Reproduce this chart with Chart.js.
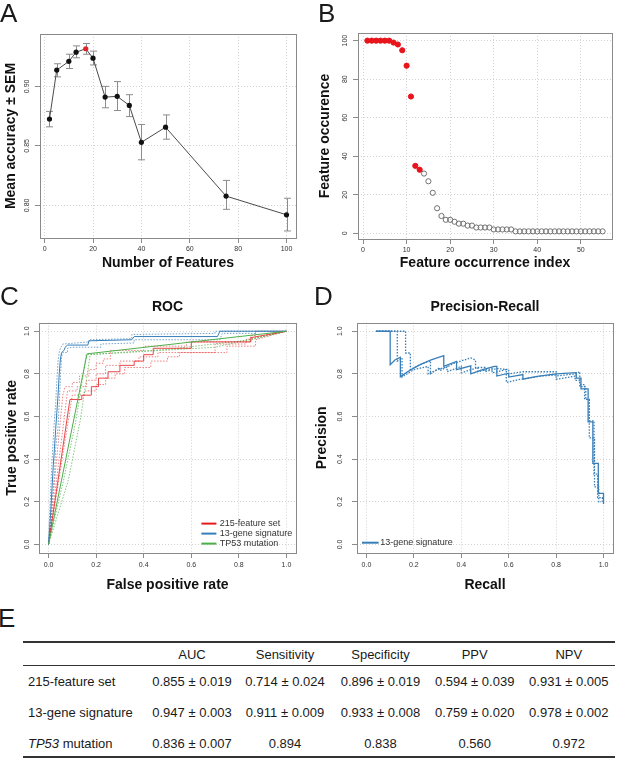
<!DOCTYPE html>
<html>
<head>
<meta charset="utf-8">
<script src="https://cdn.jsdelivr.net/npm/chart.js@4.4.1/dist/chart.umd.min.js"></script>
<style>
  html, body { margin: 0; padding: 0; background: #fff; }
  #fig { position: relative; width: 617px; height: 760px; overflow: hidden; font-family: "Liberation Sans", Arial, sans-serif; color: #1a1a1a; }
  canvas { position: absolute; }
  .tag { position: absolute; font-size: 26px; line-height: 26px; }
  .cell { position: absolute; height: 16px; line-height: 16px; font-size: 13px; white-space: nowrap; }
  .rule { position: absolute; left: 23px; width: 592px; background: #333; }
</style>
</head>
<body>
<div id="fig">
  <canvas id="chartA" width="308" height="280" style="left:0;top:0"></canvas>
  <canvas id="chartB" width="317" height="280" style="left:300px;top:0"></canvas>
  <canvas id="chartC" width="308" height="320" style="left:0;top:280px"></canvas>
  <canvas id="chartD" width="317" height="320" style="left:300px;top:280px"></canvas>
  <div class="tag" style="left:0;top:0">A</div>
  <div class="tag" style="left:318px;top:0">B</div>
  <div class="tag" style="left:0;top:283px">C</div>
  <div class="tag" style="left:314px;top:283px">D</div>
  <div class="tag" style="left:-2px;top:605px">E</div>
</div>
<script>
// ---- panel A: accuracy vs number of features
const featureCounts = [2, 5, 10, 13, 17, 20, 25, 30, 35, 40, 50, 75, 100];
const meanAccuracy  = [0.8726, 0.9137, 0.9210, 0.9287, 0.9316, 0.9237, 0.8910, 0.8916, 0.8840, 0.8530, 0.8657, 0.8078, 0.7921];
const semLow        = [0.866, 0.908, 0.915, 0.924, 0.927, 0.918, 0.882, 0.8797, 0.8746, 0.8383, 0.8556, 0.7967, 0.7785];
const semHigh       = [0.879, 0.919, 0.927, 0.934, 0.936, 0.9296, 0.900, 0.904, 0.893, 0.868, 0.876, 0.821, 0.806];
const bestFeatureCount = 17;
const ticksAX = [0, 20, 40, 60, 80, 100];
const ticksAY = [0.80, 0.85, 0.90];

// ---- panel B: feature occurrence
const occurrence = [100, 100, 100, 100, 100, 100, 99, 98, 95, 87, 71, 35, 33,
  31, 27, 21, 13, 9, 7, 7, 6, 5, 5, 4, 4, 3, 3, 3, 3, 2, 2, 2, 2, 2,
  1, 1, 1, 1, 1, 1, 1, 1, 1, 1, 1, 1, 1, 1, 1, 1, 1, 1, 1, 1, 1];
const selectedCount = 13;
const ticksBX = [0, 10, 20, 30, 40, 50];
const ticksBY = [0, 20, 40, 60, 80, 100];

// ---- panel C: ROC curves (FPR, TPR)
const rocFeatMean = [[0,0],[0.09,0.68],[0.14,0.68],[0.14,0.70],[0.18,0.70],[0.18,0.74],[0.21,0.74],[0.21,0.78],[0.25,0.78],[0.25,0.81],[0.30,0.81],[0.30,0.84],[0.36,0.84],[0.36,0.86],[0.40,0.86],[0.40,0.89],[0.44,0.89],[0.44,0.92],[0.60,0.92],[0.60,0.95],[0.85,0.95],[0.85,0.97],[1,1]];
const rocFeatRunA = [[0,0],[0.06,0.70],[0.07,0.74],[0.10,0.74],[0.10,0.76],[0.13,0.76],[0.13,0.79],[0.17,0.79],[0.17,0.82],[0.20,0.82],[0.20,0.85],[0.23,0.85],[0.23,0.87],[0.26,0.87],[0.26,0.91],[0.40,0.91],[0.40,0.93],[0.58,0.93],[0.58,0.95],[0.85,0.95],[0.85,0.98],[0.87,0.98],[0.87,1],[1,1]];
const rocFeatRunB = [[0,0],[0.08,0.72],[0.12,0.72],[0.12,0.74],[0.16,0.74],[0.16,0.77],[0.20,0.77],[0.20,0.80],[0.24,0.80],[0.24,0.84],[0.30,0.84],[0.30,0.86],[0.38,0.86],[0.38,0.88],[0.46,0.88],[0.46,0.90],[0.70,0.90],[0.70,0.94],[0.83,0.94],[0.83,0.96],[1,1]];
const rocFeatRunC = [[0,0],[0.10,0.70],[0.15,0.70],[0.15,0.72],[0.20,0.72],[0.20,0.75],[0.24,0.75],[0.24,0.78],[0.28,0.78],[0.28,0.80],[0.32,0.80],[0.32,0.83],[0.43,0.83],[0.43,0.86],[0.50,0.86],[0.50,0.88],[0.55,0.88],[0.55,0.90],[0.75,0.90],[0.75,0.93],[0.87,0.93],[0.87,0.96],[1,1]];
const rocGeneMean = [[0,0],[0.005,0.08],[0.01,0.17],[0.015,0.27],[0.02,0.37],[0.025,0.45],[0.03,0.54],[0.035,0.62],[0.04,0.70],[0.045,0.80],[0.05,0.87],[0.055,0.90],[0.065,0.91],[0.07,0.925],[0.08,0.935],[0.165,0.935],[0.17,0.955],[0.35,0.96],[0.36,0.975],[0.71,0.975],[0.72,1],[1,1]];
const rocGeneRunA = [[0,0],[0.01,0.10],[0.015,0.20],[0.025,0.33],[0.03,0.45],[0.04,0.55],[0.045,0.66],[0.05,0.78],[0.055,0.88],[0.06,0.90],[0.08,0.90],[0.08,0.92],[0.10,0.925],[0.22,0.925],[0.22,0.94],[0.36,0.945],[0.36,0.96],[0.72,0.96],[0.73,0.99],[0.87,0.99],[0.87,1],[1,1]];
const rocGeneRunB = [[0,0],[0.003,0.10],[0.008,0.22],[0.012,0.33],[0.017,0.44],[0.022,0.54],[0.03,0.66],[0.035,0.77],[0.04,0.86],[0.045,0.90],[0.05,0.92],[0.06,0.94],[0.17,0.95],[0.17,0.96],[0.35,0.965],[0.35,0.985],[0.70,0.99],[0.70,1],[1,1]];
const rocTp53Mean = [[0,0],[0.162,0.894],[1,1]];
const rocTp53RunA = [[0,0],[0.063,0.30],[0.115,0.58],[0.158,0.89],[0.50,0.915],[0.85,0.96],[1,1]];
const rocTp53RunB = [[0,0],[0.083,0.30],[0.133,0.58],[0.175,0.89],[0.70,0.925],[1,1]];
const seriesNames = ['215-feature set', '13-gene signature', 'TP53 mutation'];
const ticksUnit = [0, 0.2, 0.4, 0.6, 0.8, 1.0];

// ---- panel D: precision-recall (recall, precision)
const prMean = [[0.04,1],[0.10,1],[0.10,0.843],[0.12,0.865],[0.143,0.878],[0.143,0.787],[0.18,0.815],[0.22,0.84],[0.27,0.865],[0.326,0.885],[0.326,0.835],[0.38,0.858],[0.38,0.82],[0.44,0.838],[0.44,0.80],[0.49,0.82],[0.54,0.835],[0.55,0.835],[0.55,0.79],[0.60,0.803],[0.60,0.785],[0.66,0.797],[0.66,0.775],[0.72,0.788],[0.80,0.80],[0.885,0.806],[0.885,0.78],[0.905,0.78],[0.905,0.73],[0.935,0.73],[0.935,0.575],[0.955,0.575],[0.955,0.38],[0.978,0.38],[0.978,0.24],[1.0,0.24],[1.0,0.19]];
const prRunA = [[0.04,1],[0.165,1],[0.165,0.898],[0.185,0.898],[0.185,0.82],[0.23,0.845],[0.27,0.862],[0.27,0.80],[0.31,0.83],[0.31,0.815],[0.37,0.85],[0.44,0.875],[0.46,0.865],[0.46,0.83],[0.50,0.83],[0.50,0.81],[0.55,0.825],[0.60,0.82],[0.60,0.80],[0.66,0.81],[0.72,0.81],[0.80,0.81],[0.80,0.79],[0.88,0.80],[0.90,0.81],[0.90,0.75],[0.92,0.75],[0.92,0.68],[0.94,0.68],[0.94,0.50],[0.962,0.50],[0.962,0.27],[0.98,0.27],[0.98,0.20],[0.99,0.20]];
const prRunB = [[0.04,1],[0.13,1],[0.13,0.86],[0.15,0.875],[0.15,0.785],[0.20,0.82],[0.26,0.835],[0.26,0.80],[0.30,0.82],[0.34,0.835],[0.34,0.81],[0.40,0.835],[0.40,0.805],[0.47,0.83],[0.47,0.81],[0.53,0.825],[0.53,0.805],[0.57,0.815],[0.59,0.82],[0.59,0.76],[0.65,0.775],[0.74,0.79],[0.80,0.795],[0.80,0.775],[0.86,0.785],[0.88,0.79],[0.88,0.77],[0.90,0.77],[0.90,0.74],[0.925,0.74],[0.925,0.68],[0.94,0.68],[0.94,0.58],[0.96,0.58],[0.96,0.33],[0.975,0.33],[0.975,0.22],[0.995,0.22],[0.995,0.20]];

// ---- panel E: summary table
const metricNames = ['AUC', 'Sensitivity', 'Specificity', 'PPV', 'NPV'];
const featMeans = [0.855, 0.714, 0.896, 0.594, 0.931];
const featSem   = [0.019, 0.024, 0.019, 0.039, 0.005];
const geneMeans = [0.947, 0.911, 0.933, 0.759, 0.978];
const geneSem   = [0.003, 0.009, 0.008, 0.020, 0.002];
const tp53Values = [0.836, 0.894, 0.838, 0.560, 0.972];
const tp53Sem    = [0.007, null, null, null, null];

const RED = '#E41A1C', BLUE = '#377EB8', GREEN = '#4DAF4A';
const FONT = '"Liberation Sans", Arial, sans-serif';

Chart.defaults.font.family = FONT;
Chart.defaults.color = '#333';
Chart.defaults.animation = false;
Chart.defaults.events = [];
Chart.defaults.plugins.legend.display = false;
Chart.defaults.plugins.tooltip.enabled = false;

const pts = arr => arr.map(([x, y]) => ({ x, y }));

// R style box around plot region
const frame = {
  id: 'frame',
  afterDraw(chart) {
    const { ctx, chartArea: a } = chart;
    ctx.save();
    ctx.strokeStyle = '#8a8a8a';
    ctx.lineWidth = 1;
    ctx.strokeRect(Math.round(a.left) + 0.5, Math.round(a.top) + 0.5, Math.round(a.right - a.left), Math.round(a.bottom - a.top));
    ctx.restore();
  }
};

// y tick labels written parallel to the axis, like R's default
const sideLabels = {
  id: 'sideLabels',
  afterDraw(chart, args, o) {
    const { ctx, chartArea: a } = chart;
    const s = chart.scales.y;
    ctx.save();
    ctx.font = '7px ' + FONT;
    ctx.fillStyle = '#333';
    ctx.textAlign = 'center';
    ctx.textBaseline = 'middle';
    s.ticks.forEach(t => {
      const py = s.getPixelForValue(t.value);
      ctx.save();
      ctx.translate(a.left - o.offset, py);
      ctx.rotate(-Math.PI / 2);
      ctx.fillText(t.value.toFixed(o.dec), 0, 0);
      ctx.restore();
    });
    ctx.restore();
  }
};

const errorBars = {
  id: 'errorBars',
  beforeDatasetsDraw(chart, args, o) {
    if (!o.xs) return;
    const { ctx, scales: { x, y } } = chart;
    ctx.save();
    ctx.strokeStyle = o.color;
    ctx.lineWidth = 1;
    o.xs.forEach((v, i) => {
      const px = Math.round(x.getPixelForValue(v)) + 0.5;
      const top = y.getPixelForValue(o.hi[i]);
      const bot = y.getPixelForValue(o.lo[i]);
      ctx.beginPath();
      ctx.moveTo(px, top); ctx.lineTo(px, bot);
      ctx.moveTo(px - o.cap, top); ctx.lineTo(px + o.cap, top);
      ctx.moveTo(px - o.cap, bot); ctx.lineTo(px + o.cap, bot);
      ctx.stroke();
    });
    ctx.restore();
  }
};

const lineKey = {
  id: 'lineKey',
  afterDraw(chart, args, o) {
    if (!o.items) return;
    const { ctx, chartArea: a } = chart;
    ctx.save();
    ctx.font = '9px ' + FONT;
    ctx.textBaseline = 'middle';
    o.items.forEach((it, i) => {
      const y = a.bottom + o.dy + i * o.gap;
      const x0 = a.left + o.dx;
      ctx.strokeStyle = it.color;
      ctx.lineWidth = 2;
      ctx.beginPath();
      ctx.moveTo(x0, y); ctx.lineTo(x0 + o.len, y);
      ctx.stroke();
      ctx.fillStyle = '#333';
      ctx.fillText(it.label, x0 + o.len + o.textGap, y);
    });
    ctx.restore();
  }
};

const gridOpts = { color: '#d2d2d2', lineWidth: 1, tickLength: 5, tickColor: '#8a8a8a', tickWidth: 1, tickBorderDash: [] };

function xAxis(o) {
  return {
    type: 'linear', position: 'bottom', min: o.min, max: o.max,
    afterBuildTicks: s => { s.ticks = o.ticks.map(v => ({ value: v })); },
    afterFit: s => { s.height = o.size; },
    ticks: { font: { size: 7 }, color: '#333', padding: o.labelPad, autoSkip: false, maxRotation: 0, callback: v => v.toFixed(o.dec) },
    grid: gridOpts,
    border: { display: false, dash: [1, 2] },
    title: { display: true, text: o.title, font: { size: 14, weight: 'bold' }, color: '#111', padding: { top: 0, bottom: o.titlePad } }
  };
}

function yAxis(o) {
  return {
    type: 'linear', position: 'left', min: o.min, max: o.max,
    afterBuildTicks: s => { s.ticks = o.ticks.map(v => ({ value: v })); },
    afterFit: s => { s.width = o.size; },
    ticks: { display: false },
    grid: gridOpts,
    border: { display: false, dash: [1, 2] },
    title: { display: true, text: o.title, font: { size: 14, weight: 'bold' }, color: '#111', padding: { top: o.titlePad, bottom: 0 } }
  };
}

const base = { responsive: false, maintainAspectRatio: false };

// A
new Chart(document.getElementById('chartA'), {
  type: 'scatter',
  data: { datasets: [{
    data: featureCounts.map((v, i) => ({ x: v, y: meanAccuracy[i] })),
    showLine: true, borderColor: '#4a4a4a', borderWidth: 1,
    pointRadius: 2.6, pointBorderWidth: 0,
    pointBackgroundColor: featureCounts.map(v => v === bestFeatureCount ? '#e3242b' : '#111')
  }] },
  options: { ...base,
    layout: { padding: { top: 34, right: 12, left: 0, bottom: 0 } },
    scales: {
      x: xAxis({ min: -1.92, max: 103.92, ticks: ticksAX, dec: 0, size: 42, labelPad: 2, title: 'Number of Features', titlePad: 8.6 }),
      y: yAxis({ min: 0.7726, max: 0.944, ticks: ticksAY, size: 40, title: 'Mean accuracy \u00b1 SEM', titlePad: 2.6 })
    },
    plugins: {
      errorBars: { xs: featureCounts, lo: semLow, hi: semHigh, color: '#8c8c8c', cap: 3.5 },
      sideLabels: { offset: 12.5, dec: 2 }
    }
  },
  plugins: [frame, errorBars, sideLabels]
});

// B
new Chart(document.getElementById('chartB'), {
  type: 'scatter',
  data: { datasets: [{
    data: occurrence.map((v, i) => ({ x: i + 1, y: v })),
    pointRadius: 2.6,
    pointBackgroundColor: occurrence.map((v, i) => i < selectedCount ? '#e8141c' : 'rgba(0,0,0,0)'),
    pointBorderColor: occurrence.map((v, i) => i < selectedCount ? '#e8141c' : '#707070'),
    pointBorderWidth: 1
  }] },
  options: { ...base,
    layout: { padding: { top: 33, right: 4, left: 0, bottom: 0 } },
    scales: {
      x: xAxis({ min: -1.16, max: 57.16, ticks: ticksBX, dec: 0, size: 41, labelPad: 2, title: 'Feature occurrence index', titlePad: 8.1 }),
      y: yAxis({ min: -2.96, max: 103.96, ticks: ticksBY, size: 58, title: 'Feature occurence', titlePad: 16.6 })
    },
    plugins: { sideLabels: { offset: 12.8, dec: 0 } }
  },
  plugins: [frame, sideLabels]
});

function curve(arr, color, dotted, width) {
  return { data: pts(arr), showLine: true, borderColor: color, borderWidth: width || 1, borderDash: dotted ? [1.5, 1.5] : [], pointRadius: 0 };
}

// C
new Chart(document.getElementById('chartC'), {
  type: 'scatter',
  data: { datasets: [
    curve(rocTp53Mean, GREEN, false),
    curve(rocGeneMean, BLUE, false),
    curve(rocFeatMean, 'rgba(228,26,28,0.8)', false),
    curve(rocTp53RunA, 'rgba(77,175,74,0.7)', true),
    curve(rocTp53RunB, 'rgba(77,175,74,0.7)', true),
    curve(rocGeneRunA, 'rgba(55,126,184,0.7)', true),
    curve(rocGeneRunB, 'rgba(55,126,184,0.7)', true),
    curve(rocFeatRunA, 'rgba(228,26,28,0.55)', true),
    curve(rocFeatRunB, 'rgba(228,26,28,0.55)', true),
    curve(rocFeatRunC, 'rgba(228,26,28,0.55)', true)
  ] },
  options: { ...base,
    layout: { padding: { top: 0, right: 12, left: 0, bottom: 0 } },
    scales: {
      x: xAxis({ min: -0.04, max: 1.04, ticks: ticksUnit, dec: 1, size: 47, labelPad: 3, title: 'False positive rate', titlePad: 6.6 }),
      y: yAxis({ min: -0.04, max: 1.04, ticks: ticksUnit, size: 39, title: 'True positive rate', titlePad: 3.6 })
    },
    plugins: {
      title: { display: true, text: 'ROC', fullSize: false, font: { size: 14, weight: 'bold' }, color: '#111', padding: { top: 18.5, bottom: 7.4 } },
      lineKey: { items: [{ label: seriesNames[0], color: RED }, { label: seriesNames[1], color: BLUE }, { label: seriesNames[2], color: GREEN }], dx: 162.4, dy: -29.4, gap: 10, len: 15, textGap: 3.3 },
      sideLabels: { offset: 12.4, dec: 1 }
    }
  },
  plugins: [frame, lineKey, sideLabels]
});

// D
new Chart(document.getElementById('chartD'), {
  type: 'scatter',
  data: { datasets: [
    curve(prMean, BLUE, false, 1.3),
    curve(prRunA, BLUE, true, 1.3),
    curve(prRunB, BLUE, true, 1.3)
  ] },
  options: { ...base,
    layout: { padding: { top: 0, right: 4, left: 0, bottom: 0 } },
    scales: {
      x: xAxis({ min: -0.04, max: 1.04, ticks: ticksUnit, dec: 1, size: 47, labelPad: 3, title: 'Recall', titlePad: 6.6 }),
      y: yAxis({ min: -0.04, max: 1.04, ticks: ticksUnit, size: 57, title: 'Precision', titlePad: 13.3 })
    },
    plugins: {
      title: { display: true, text: 'Precision-Recall', fullSize: false, font: { size: 14, weight: 'bold' }, color: '#111', padding: { top: 18.5, bottom: 7.4 } },
      lineKey: { items: [{ label: seriesNames[1], color: BLUE }], dx: 5, dy: -10.3, gap: 10, len: 16.6, textGap: 1.7 },
      sideLabels: { offset: 17, dec: 1 }
    }
  },
  plugins: [frame, lineKey, sideLabels]
});

// E: table
const fig = document.getElementById('fig');
const colCenters = [192, 285, 380.5, 474.7, 568.8];
const rowCenters = [682.3, 713.3, 744];
function cell(html, cx, cy, left) {
  const d = document.createElement('div');
  d.className = 'cell';
  d.innerHTML = html;
  d.style.top = (cy - 8) + 'px';
  if (left) { d.style.left = cx + 'px'; }
  else { d.style.left = (cx - 47) + 'px'; d.style.width = '94px'; d.style.textAlign = 'center'; }
  fig.appendChild(d);
}
function rule(top, h) {
  const d = document.createElement('div');
  d.className = 'rule';
  d.style.top = top + 'px';
  d.style.height = h + 'px';
  fig.appendChild(d);
}
rule(641, 2); rule(665, 1); rule(756, 2);
metricNames.forEach((m, j) => cell(m, colCenters[j], 655));
const tableRows = [
  { name: seriesNames[0], means: featMeans, sem: featSem },
  { name: seriesNames[1], means: geneMeans, sem: geneSem },
  { name: seriesNames[2].replace('TP53', '<i>TP53</i>'), means: tp53Values, sem: tp53Sem }
];
tableRows.forEach((r, i) => {
  cell(r.name, 28, rowCenters[i], true);
  r.means.forEach((v, j) => {
    const s = r.sem[j];
    cell(s == null ? v.toFixed(3) : v.toFixed(3) + ' \u00b1 ' + s.toFixed(3), colCenters[j], rowCenters[i]);
  });
});
</script>
</body>
</html>
